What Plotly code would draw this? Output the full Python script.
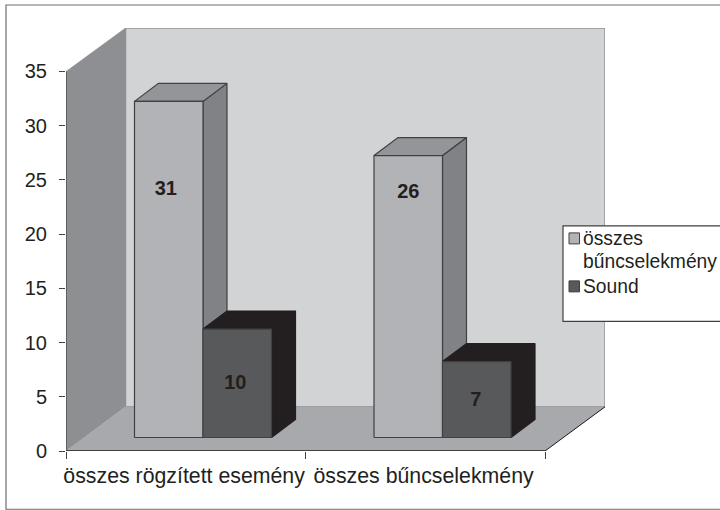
import plotly.graph_objects as go

# ---- data ----
categories = ["összes rögzített esemény", "összes bűncselekmény"]
series_names = [["összes", "bűncselekmény"], ["Sound"]]
series_a = [31, 26]
series_b = [10, 7]
y_ticks = [0, 5, 10, 15, 20, 25, 30, 35]

# ---- label placement (axis units) ----
label_y_a = [24.1, 23.8]
label_y_b = [6.15, 4.65]
label_dx_a = [-0.012, 0.0]
label_dx_b = [-0.008, -0.004]

# ---- geometry ----
PX_L, PX_R, PX_T, PX_B = 66.0, 605.0, 27.5, 450.7
PX_PER_X = 239.5
PX_PER_Y = (450.7 - 71.0) / 35
XMAX = (PX_R - PX_L) / PX_PER_X
YMAX = (PX_B - PX_T) / PX_PER_Y
WALL_DX = (605.0 - 545.5) / PX_PER_X
WALL_DY = (450.7 - 406.5) / PX_PER_Y
BAR_W = 68.5 / PX_PER_X
BAR_OFF = 68.5 / PX_PER_X
BAR_BASE = 13.5 / PX_PER_Y
BAR_DX = 24.0 / PX_PER_X
BAR_DY = 18.0 / PX_PER_Y

INK = "#231F20"
FONT = "Liberation Sans"
C_BACK, C_LEFT, C_FLOOR = "#D1D3D4", "#8D8F92", "#A7A9AC"
C_EDGE = "#414042"
STYLES = [
    dict(front="#B1B3B6", top="#939598", side="#808285", line=C_EDGE, back=C_EDGE),
    dict(front="#58595B", top=INK, side=INK, line=C_EDGE, back=INK),
]

fig = go.Figure()


def poly(xs, ys, fill, line, width=1.2):
    fig.add_trace(go.Scatter(
        x=xs + xs[:1], y=ys + ys[:1], mode="lines", fill="toself", fillcolor=fill,
        line=dict(color=line, width=width), hoverinfo="skip", showlegend=False))


def bar3d(x0, value, st):
    x1 = x0 + BAR_W
    y0, y1 = BAR_BASE, BAR_BASE + value
    poly([x1, x1 + BAR_DX, x1 + BAR_DX, x1],
         [y0, y0 + BAR_DY, y1 + BAR_DY, y1], st["side"], st["back"])
    poly([x0, x1, x1 + BAR_DX, x0 + BAR_DX],
         [y1, y1, y1 + BAR_DY, y1 + BAR_DY], st["top"], st["back"])
    poly([x0, x1, x1, x0], [y0, y0, y1, y1], st["front"], st["line"])


# walls
poly([WALL_DX, XMAX, XMAX, WALL_DX], [WALL_DY, WALL_DY, YMAX, YMAX], C_BACK, "#939598", 1.5)
poly([0, WALL_DX, WALL_DX, 0], [0, WALL_DY, YMAX, y_ticks[-1]], C_LEFT, C_LEFT, 0.5)
poly([0, 2, XMAX, WALL_DX], [0, 0, WALL_DY, WALL_DY], C_FLOOR, C_FLOOR, 0.5)

# floor's front-right edge, axis lines
fig.add_trace(go.Scatter(x=[2, XMAX], y=[0, WALL_DY], mode="lines",
                         line=dict(color=INK, width=1), hoverinfo="skip", showlegend=False))
fig.add_trace(go.Scatter(x=[0, 0], y=[0, y_ticks[-1]], mode="lines",
                         line=dict(color=C_EDGE, width=1.2), hoverinfo="skip", showlegend=False))
fig.add_trace(go.Scatter(x=[0, 2], y=[0, 0], mode="lines",
                         line=dict(color=C_EDGE, width=2), hoverinfo="skip", showlegend=False))

# bars
for i in range(len(categories)):
    bar3d(i + BAR_OFF, series_a[i], STYLES[0])
    bar3d(i + BAR_OFF + BAR_W, series_b[i], STYLES[1])

# data labels
fig.add_trace(go.Scatter(
    x=[i + BAR_OFF + BAR_W / 2 + label_dx_a[i] for i in range(len(categories))] +
      [i + BAR_OFF + 1.5 * BAR_W + label_dx_b[i] for i in range(len(categories))],
    y=label_y_a + label_y_b,
    mode="text", text=[str(v) for v in series_a + series_b],
    textfont=dict(family=FONT, size=20, color=INK, weight="bold"),
    hoverinfo="skip", showlegend=False))


def px(x):
    return (x - PX_L) / (PX_R - PX_L)


def py(y):
    return (PX_B - y) / (PX_B - PX_T)


shapes = [
    # outer chart frame
    dict(type="rect", xref="paper", yref="paper", x0=px(6), x1=px(724), y0=py(4.5), y1=py(509),
         line=dict(color="#6D6E71", width=1.2), fillcolor="rgba(0,0,0,0)", layer="below"),
    # legend box
    dict(type="rect", xref="paper", yref="paper", x0=px(563), x1=px(724), y0=py(225.5), y1=py(321),
         line=dict(color=C_EDGE, width=1.2), fillcolor="white", layer="above"),
]
annotations = []
legend_rows = [[238, 261], [286]]
for lines, st, rows in zip(series_names, STYLES, legend_rows):
    cy = rows[0]
    shapes.append(dict(type="rect", xref="paper", yref="paper", x0=px(569), x1=px(579.5),
                       y0=py(cy - 5.5), y1=py(cy + 5.5), fillcolor=st["front"],
                       line=dict(color=C_EDGE, width=1), layer="above"))
    for text, row in zip(lines, rows):
        annotations.append(dict(xref="paper", yref="paper", x=px(583), y=py(row), text=text,
                                showarrow=False, xanchor="left", yanchor="middle", align="left",
                                font=dict(family=FONT, size=19.3, color=INK), borderpad=0,
                                borderwidth=0))

fig.update_layout(
    width=720, height=510, autosize=False,
    margin=dict(l=PX_L, r=720 - PX_R, t=PX_T, b=510 - PX_B, pad=0),
    paper_bgcolor="white", plot_bgcolor="white", showlegend=False,
    shapes=shapes, annotations=annotations,
    font=dict(family=FONT, size=16, color=INK),
    xaxis=dict(range=[0, XMAX], tickmode="array", tickvals=[0.493, 1.493], ticktext=categories,
               ticks="", showgrid=False, zeroline=False, showline=False, ticklabelstandoff=10,
               minor=dict(tickmode="array", tickvals=[0, 1, 2], ticks="outside", ticklen=7,
                          tickcolor=C_EDGE, tickwidth=1, showgrid=False),
               tickfont=dict(family=FONT, size=21.3, color=INK)),
    yaxis=dict(range=[0, YMAX], tickmode="array", tickvals=y_ticks, ticks="outside", ticklen=6,
               tickcolor=C_EDGE, tickwidth=1, showgrid=False, zeroline=False, showline=False,
               ticklabelstandoff=8, tickfont=dict(family=FONT, size=20, color=INK)),
)
fig.write_html("out.html", config={"displayModeBar": False},
               post_script="document.body.style.margin='0';")
